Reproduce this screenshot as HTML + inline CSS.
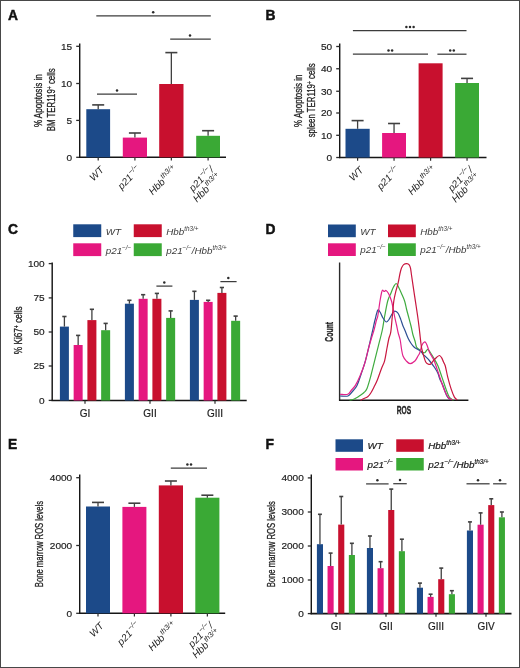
<!DOCTYPE html>
<html><head><meta charset="utf-8"><style>
html,body{margin:0;padding:0;background:#fff;}
body{width:520px;height:668px;overflow:hidden;}
svg{display:block;filter:blur(0.3px);}
text{font-family:"Liberation Sans",sans-serif;}
</style></head><body>
<svg width="520" height="668" viewBox="0 0 520 668">
<rect x="0" y="0" width="520" height="668" fill="#fff"/>
<text x="8.00" y="20.20" font-size="13.8" text-anchor="start" font-weight="bold" font-style="normal" fill="#111" stroke="#111" stroke-width="0.45">A</text>
<line x1="79.70" y1="43.50" x2="79.70" y2="157.90" stroke="#161616" stroke-width="1.45"/>
<line x1="76.20" y1="46.30" x2="79.70" y2="46.30" stroke="#2b2b2b" stroke-width="1.3"/>
<text x="72.20" y="49.75" font-size="9.8" text-anchor="end" font-weight="normal" font-style="normal" fill="#222" textLength="11.20" lengthAdjust="spacingAndGlyphs" stroke="#222" stroke-width="0.18">15</text>
<line x1="76.20" y1="83.50" x2="79.70" y2="83.50" stroke="#2b2b2b" stroke-width="1.3"/>
<text x="72.20" y="86.95" font-size="9.8" text-anchor="end" font-weight="normal" font-style="normal" fill="#222" textLength="11.20" lengthAdjust="spacingAndGlyphs" stroke="#222" stroke-width="0.18">10</text>
<line x1="76.20" y1="120.40" x2="79.70" y2="120.40" stroke="#2b2b2b" stroke-width="1.3"/>
<text x="72.20" y="123.85" font-size="9.8" text-anchor="end" font-weight="normal" font-style="normal" fill="#222" textLength="5.60" lengthAdjust="spacingAndGlyphs" stroke="#222" stroke-width="0.18">5</text>
<line x1="76.20" y1="157.30" x2="79.70" y2="157.30" stroke="#2b2b2b" stroke-width="1.3"/>
<text x="72.20" y="160.75" font-size="9.8" text-anchor="end" font-weight="normal" font-style="normal" fill="#222" textLength="5.60" lengthAdjust="spacingAndGlyphs" stroke="#222" stroke-width="0.18">0</text>
<line x1="79.00" y1="157.30" x2="226.00" y2="157.30" stroke="#161616" stroke-width="1.55"/>
<line x1="98.20" y1="157.30" x2="98.20" y2="160.50" stroke="#2b2b2b" stroke-width="1.2"/>
<line x1="134.90" y1="157.30" x2="134.90" y2="160.50" stroke="#2b2b2b" stroke-width="1.2"/>
<line x1="171.35" y1="157.30" x2="171.35" y2="160.50" stroke="#2b2b2b" stroke-width="1.2"/>
<line x1="208.10" y1="157.30" x2="208.10" y2="160.50" stroke="#2b2b2b" stroke-width="1.2"/>
<rect x="86.30" y="109.20" width="23.80" height="48.10" fill="#1c4a89"/>
<line x1="98.20" y1="109.20" x2="98.20" y2="104.90" stroke="#404040" stroke-width="1.3"/>
<line x1="92.20" y1="104.90" x2="104.20" y2="104.90" stroke="#404040" stroke-width="1.6"/>
<rect x="122.80" y="137.60" width="24.20" height="19.70" fill="#e5177f"/>
<line x1="134.90" y1="137.60" x2="134.90" y2="133.00" stroke="#404040" stroke-width="1.3"/>
<line x1="128.90" y1="133.00" x2="140.90" y2="133.00" stroke="#404040" stroke-width="1.6"/>
<rect x="159.20" y="84.00" width="24.30" height="73.30" fill="#c8102e"/>
<line x1="171.35" y1="84.00" x2="171.35" y2="52.60" stroke="#404040" stroke-width="1.3"/>
<line x1="165.35" y1="52.60" x2="177.35" y2="52.60" stroke="#404040" stroke-width="1.6"/>
<rect x="196.20" y="135.80" width="23.80" height="21.50" fill="#3aa935"/>
<line x1="208.10" y1="135.80" x2="208.10" y2="130.70" stroke="#404040" stroke-width="1.3"/>
<line x1="202.10" y1="130.70" x2="214.10" y2="130.70" stroke="#404040" stroke-width="1.6"/>
<line x1="96.30" y1="15.80" x2="210.80" y2="15.80" stroke="#3c3c3c" stroke-width="1.25"/>
<circle cx="153.20" cy="12.20" r="1.25" fill="#2b2b2b"/>
<line x1="170.20" y1="39.20" x2="210.80" y2="39.20" stroke="#3c3c3c" stroke-width="1.25"/>
<circle cx="190.00" cy="35.60" r="1.25" fill="#2b2b2b"/>
<line x1="97.00" y1="94.20" x2="137.00" y2="94.20" stroke="#3c3c3c" stroke-width="1.25"/>
<circle cx="117.00" cy="90.60" r="1.25" fill="#2b2b2b"/>
<text transform="translate(41.80,100.70) rotate(-90)" x="0" y="0" font-size="10.4" text-anchor="middle" font-weight="normal" fill="#222" stroke="#222" stroke-width="0.3" textLength="52.8" lengthAdjust="spacingAndGlyphs">% Apoptosis in</text>
<text transform="translate(55.20,99.85) rotate(-90)" x="0" y="0" font-size="10.4" text-anchor="middle" font-weight="normal" fill="#222" stroke="#222" stroke-width="0.3" textLength="63" lengthAdjust="spacingAndGlyphs">BM TER119<tspan font-size="6.5" dy="-3.5">+</tspan><tspan dy="3.5"> cells</tspan></text>
<text x="265.40" y="20.20" font-size="13.8" text-anchor="start" font-weight="bold" font-style="normal" fill="#111" stroke="#111" stroke-width="0.45">B</text>
<line x1="339.70" y1="43.50" x2="339.70" y2="158.10" stroke="#161616" stroke-width="1.45"/>
<line x1="336.20" y1="46.50" x2="339.70" y2="46.50" stroke="#2b2b2b" stroke-width="1.3"/>
<text x="332.20" y="49.95" font-size="9.8" text-anchor="end" font-weight="normal" font-style="normal" fill="#222" textLength="11.20" lengthAdjust="spacingAndGlyphs" stroke="#222" stroke-width="0.18">50</text>
<line x1="336.20" y1="68.75" x2="339.70" y2="68.75" stroke="#2b2b2b" stroke-width="1.3"/>
<text x="332.20" y="72.20" font-size="9.8" text-anchor="end" font-weight="normal" font-style="normal" fill="#222" textLength="11.20" lengthAdjust="spacingAndGlyphs" stroke="#222" stroke-width="0.18">40</text>
<line x1="336.20" y1="91.25" x2="339.70" y2="91.25" stroke="#2b2b2b" stroke-width="1.3"/>
<text x="332.20" y="94.70" font-size="9.8" text-anchor="end" font-weight="normal" font-style="normal" fill="#222" textLength="11.20" lengthAdjust="spacingAndGlyphs" stroke="#222" stroke-width="0.18">30</text>
<line x1="336.20" y1="113.00" x2="339.70" y2="113.00" stroke="#2b2b2b" stroke-width="1.3"/>
<text x="332.20" y="116.45" font-size="9.8" text-anchor="end" font-weight="normal" font-style="normal" fill="#222" textLength="11.20" lengthAdjust="spacingAndGlyphs" stroke="#222" stroke-width="0.18">20</text>
<line x1="336.20" y1="135.30" x2="339.70" y2="135.30" stroke="#2b2b2b" stroke-width="1.3"/>
<text x="332.20" y="138.75" font-size="9.8" text-anchor="end" font-weight="normal" font-style="normal" fill="#222" textLength="11.20" lengthAdjust="spacingAndGlyphs" stroke="#222" stroke-width="0.18">10</text>
<line x1="336.20" y1="157.50" x2="339.70" y2="157.50" stroke="#2b2b2b" stroke-width="1.3"/>
<text x="332.20" y="160.95" font-size="9.8" text-anchor="end" font-weight="normal" font-style="normal" fill="#222" textLength="5.60" lengthAdjust="spacingAndGlyphs" stroke="#222" stroke-width="0.18">0</text>
<line x1="339.00" y1="157.50" x2="486.50" y2="157.50" stroke="#161616" stroke-width="1.55"/>
<line x1="357.60" y1="157.50" x2="357.60" y2="160.70" stroke="#2b2b2b" stroke-width="1.2"/>
<line x1="394.05" y1="157.50" x2="394.05" y2="160.70" stroke="#2b2b2b" stroke-width="1.2"/>
<line x1="430.60" y1="157.50" x2="430.60" y2="160.70" stroke="#2b2b2b" stroke-width="1.2"/>
<line x1="467.05" y1="157.50" x2="467.05" y2="160.70" stroke="#2b2b2b" stroke-width="1.2"/>
<rect x="345.50" y="128.80" width="24.20" height="28.70" fill="#1c4a89"/>
<line x1="357.60" y1="128.80" x2="357.60" y2="120.60" stroke="#404040" stroke-width="1.3"/>
<line x1="351.60" y1="120.60" x2="363.60" y2="120.60" stroke="#404040" stroke-width="1.6"/>
<rect x="382.10" y="133.00" width="23.90" height="24.50" fill="#e5177f"/>
<line x1="394.05" y1="133.00" x2="394.05" y2="123.50" stroke="#404040" stroke-width="1.3"/>
<line x1="388.05" y1="123.50" x2="400.05" y2="123.50" stroke="#404040" stroke-width="1.6"/>
<rect x="418.60" y="63.30" width="24.00" height="94.20" fill="#c8102e"/>
<rect x="455.10" y="83.00" width="23.90" height="74.50" fill="#3aa935"/>
<line x1="467.05" y1="83.00" x2="467.05" y2="78.40" stroke="#404040" stroke-width="1.3"/>
<line x1="461.05" y1="78.40" x2="473.05" y2="78.40" stroke="#404040" stroke-width="1.6"/>
<line x1="352.90" y1="30.70" x2="466.50" y2="30.70" stroke="#3c3c3c" stroke-width="1.25"/>
<circle cx="406.40" cy="27.10" r="1.25" fill="#2b2b2b"/>
<circle cx="410.00" cy="27.10" r="1.25" fill="#2b2b2b"/>
<circle cx="413.60" cy="27.10" r="1.25" fill="#2b2b2b"/>
<line x1="352.90" y1="54.20" x2="428.00" y2="54.20" stroke="#3c3c3c" stroke-width="1.25"/>
<circle cx="388.50" cy="50.60" r="1.25" fill="#2b2b2b"/>
<circle cx="392.10" cy="50.60" r="1.25" fill="#2b2b2b"/>
<line x1="437.40" y1="54.20" x2="466.50" y2="54.20" stroke="#3c3c3c" stroke-width="1.25"/>
<circle cx="450.20" cy="50.60" r="1.25" fill="#2b2b2b"/>
<circle cx="453.80" cy="50.60" r="1.25" fill="#2b2b2b"/>
<text transform="translate(301.70,100.70) rotate(-90)" x="0" y="0" font-size="10.4" text-anchor="middle" font-weight="normal" fill="#222" stroke="#222" stroke-width="0.3" textLength="52.4" lengthAdjust="spacingAndGlyphs">% Apoptosis in</text>
<text transform="translate(315.20,100.30) rotate(-90)" x="0" y="0" font-size="10.4" text-anchor="middle" font-weight="normal" fill="#222" stroke="#222" stroke-width="0.3" textLength="74" lengthAdjust="spacingAndGlyphs">spleen TER119<tspan font-size="6.5" dy="-3.5">+</tspan><tspan dy="3.5"> cells</tspan></text>
<text x="8.00" y="234.40" font-size="13.8" text-anchor="start" font-weight="bold" font-style="normal" fill="#111" stroke="#111" stroke-width="0.45">C</text>
<rect x="73.25" y="224.30" width="28.00" height="12.80" fill="#1c4a89"/>
<text x="105.75" y="234.50" font-size="9.8" text-anchor="start" font-weight="normal" font-style="italic" fill="#3a3a3a" >WT</text>
<rect x="73.25" y="243.30" width="28.00" height="12.80" fill="#e5177f"/>
<text x="105.75" y="253.50" font-size="9.8" text-anchor="start" font-weight="normal" font-style="italic" fill="#3a3a3a" >p21<tspan font-size="6.3" dy="-4">−/−</tspan></text>
<rect x="133.75" y="224.30" width="28.00" height="12.80" fill="#c8102e"/>
<text x="166.25" y="234.50" font-size="9.8" text-anchor="start" font-weight="normal" font-style="italic" fill="#3a3a3a" >Hbb<tspan font-size="6.3" dy="-4">th3/+</tspan></text>
<rect x="133.75" y="243.30" width="28.00" height="12.80" fill="#3aa935"/>
<text x="166.25" y="253.50" font-size="9.8" text-anchor="start" font-weight="normal" font-style="italic" fill="#3a3a3a" >p21<tspan font-size="6.3" dy="-4">−/−</tspan><tspan dy="4">/Hbb</tspan><tspan font-size="6.3" dy="-4">th3/+</tspan></text>
<line x1="52.20" y1="262.50" x2="52.20" y2="401.10" stroke="#161616" stroke-width="1.45"/>
<line x1="48.70" y1="263.60" x2="52.20" y2="263.60" stroke="#2b2b2b" stroke-width="1.3"/>
<text x="44.70" y="267.05" font-size="9.8" text-anchor="end" font-weight="normal" font-style="normal" fill="#222" textLength="16.80" lengthAdjust="spacingAndGlyphs" stroke="#222" stroke-width="0.18">100</text>
<line x1="48.70" y1="297.90" x2="52.20" y2="297.90" stroke="#2b2b2b" stroke-width="1.3"/>
<text x="44.70" y="301.35" font-size="9.8" text-anchor="end" font-weight="normal" font-style="normal" fill="#222" textLength="11.20" lengthAdjust="spacingAndGlyphs" stroke="#222" stroke-width="0.18">75</text>
<line x1="48.70" y1="332.00" x2="52.20" y2="332.00" stroke="#2b2b2b" stroke-width="1.3"/>
<text x="44.70" y="335.45" font-size="9.8" text-anchor="end" font-weight="normal" font-style="normal" fill="#222" textLength="11.20" lengthAdjust="spacingAndGlyphs" stroke="#222" stroke-width="0.18">50</text>
<line x1="48.70" y1="366.00" x2="52.20" y2="366.00" stroke="#2b2b2b" stroke-width="1.3"/>
<text x="44.70" y="369.45" font-size="9.8" text-anchor="end" font-weight="normal" font-style="normal" fill="#222" textLength="11.20" lengthAdjust="spacingAndGlyphs" stroke="#222" stroke-width="0.18">25</text>
<line x1="48.70" y1="400.40" x2="52.20" y2="400.40" stroke="#2b2b2b" stroke-width="1.3"/>
<text x="44.70" y="403.85" font-size="9.8" text-anchor="end" font-weight="normal" font-style="normal" fill="#222" textLength="5.60" lengthAdjust="spacingAndGlyphs" stroke="#222" stroke-width="0.18">0</text>
<line x1="51.50" y1="400.50" x2="246.70" y2="400.50" stroke="#161616" stroke-width="1.55"/>
<line x1="85.00" y1="400.50" x2="85.00" y2="403.70" stroke="#2b2b2b" stroke-width="1.2"/>
<line x1="150.00" y1="400.50" x2="150.00" y2="403.70" stroke="#2b2b2b" stroke-width="1.2"/>
<line x1="215.00" y1="400.50" x2="215.00" y2="403.70" stroke="#2b2b2b" stroke-width="1.2"/>
<rect x="59.90" y="326.60" width="9.00" height="73.90" fill="#1c4a89"/>
<line x1="64.40" y1="326.60" x2="64.40" y2="316.50" stroke="#404040" stroke-width="1.3"/>
<line x1="62.30" y1="316.50" x2="66.50" y2="316.50" stroke="#404040" stroke-width="1.6"/>
<rect x="73.65" y="345.00" width="9.00" height="55.50" fill="#e5177f"/>
<line x1="78.15" y1="345.00" x2="78.15" y2="335.40" stroke="#404040" stroke-width="1.3"/>
<line x1="76.05" y1="335.40" x2="80.25" y2="335.40" stroke="#404040" stroke-width="1.6"/>
<rect x="87.40" y="320.10" width="9.00" height="80.40" fill="#c8102e"/>
<line x1="91.90" y1="320.10" x2="91.90" y2="309.30" stroke="#404040" stroke-width="1.3"/>
<line x1="89.80" y1="309.30" x2="94.00" y2="309.30" stroke="#404040" stroke-width="1.6"/>
<rect x="101.15" y="330.20" width="9.00" height="70.30" fill="#3aa935"/>
<line x1="105.65" y1="330.20" x2="105.65" y2="323.40" stroke="#404040" stroke-width="1.3"/>
<line x1="103.55" y1="323.40" x2="107.75" y2="323.40" stroke="#404040" stroke-width="1.6"/>
<rect x="124.90" y="303.70" width="9.00" height="96.80" fill="#1c4a89"/>
<line x1="129.40" y1="303.70" x2="129.40" y2="300.30" stroke="#404040" stroke-width="1.3"/>
<line x1="127.30" y1="300.30" x2="131.50" y2="300.30" stroke="#404040" stroke-width="1.6"/>
<rect x="138.65" y="298.80" width="9.00" height="101.70" fill="#e5177f"/>
<line x1="143.15" y1="298.80" x2="143.15" y2="294.70" stroke="#404040" stroke-width="1.3"/>
<line x1="141.05" y1="294.70" x2="145.25" y2="294.70" stroke="#404040" stroke-width="1.6"/>
<rect x="152.40" y="298.80" width="9.00" height="101.70" fill="#c8102e"/>
<line x1="156.90" y1="298.80" x2="156.90" y2="293.40" stroke="#404040" stroke-width="1.3"/>
<line x1="154.80" y1="293.40" x2="159.00" y2="293.40" stroke="#404040" stroke-width="1.6"/>
<rect x="166.15" y="317.90" width="9.00" height="82.60" fill="#3aa935"/>
<line x1="170.65" y1="317.90" x2="170.65" y2="310.90" stroke="#404040" stroke-width="1.3"/>
<line x1="168.55" y1="310.90" x2="172.75" y2="310.90" stroke="#404040" stroke-width="1.6"/>
<rect x="189.90" y="299.90" width="9.00" height="100.60" fill="#1c4a89"/>
<line x1="194.40" y1="299.90" x2="194.40" y2="291.30" stroke="#404040" stroke-width="1.3"/>
<line x1="192.30" y1="291.30" x2="196.50" y2="291.30" stroke="#404040" stroke-width="1.6"/>
<rect x="203.65" y="301.90" width="9.00" height="98.60" fill="#e5177f"/>
<line x1="208.15" y1="301.90" x2="208.15" y2="300.30" stroke="#404040" stroke-width="1.3"/>
<line x1="206.05" y1="300.30" x2="210.25" y2="300.30" stroke="#404040" stroke-width="1.6"/>
<rect x="217.40" y="292.90" width="9.00" height="107.60" fill="#c8102e"/>
<line x1="221.90" y1="292.90" x2="221.90" y2="287.50" stroke="#404040" stroke-width="1.3"/>
<line x1="219.80" y1="287.50" x2="224.00" y2="287.50" stroke="#404040" stroke-width="1.6"/>
<rect x="231.15" y="320.80" width="9.00" height="79.70" fill="#3aa935"/>
<line x1="235.65" y1="320.80" x2="235.65" y2="316.10" stroke="#404040" stroke-width="1.3"/>
<line x1="233.55" y1="316.10" x2="237.75" y2="316.10" stroke="#404040" stroke-width="1.6"/>
<line x1="156.40" y1="286.10" x2="172.40" y2="286.10" stroke="#3c3c3c" stroke-width="1.25"/>
<circle cx="164.30" cy="282.50" r="1.25" fill="#2b2b2b"/>
<line x1="220.40" y1="281.60" x2="236.60" y2="281.60" stroke="#3c3c3c" stroke-width="1.25"/>
<circle cx="228.30" cy="278.00" r="1.25" fill="#2b2b2b"/>
<text x="85.00" y="416.90" font-size="10" text-anchor="middle" font-weight="normal" font-style="normal" fill="#222" stroke="#222" stroke-width="0.18">GI</text>
<text x="150.00" y="416.90" font-size="10" text-anchor="middle" font-weight="normal" font-style="normal" fill="#222" stroke="#222" stroke-width="0.18">GII</text>
<text x="215.00" y="416.90" font-size="10" text-anchor="middle" font-weight="normal" font-style="normal" fill="#222" stroke="#222" stroke-width="0.18">GIII</text>
<text transform="translate(22.00,330.30) rotate(-90)" x="0" y="0" font-size="10.4" text-anchor="middle" font-weight="normal" fill="#222" stroke="#222" stroke-width="0.3" textLength="47.8" lengthAdjust="spacingAndGlyphs">% Ki67<tspan font-size="6.5" dy="-3.5">+</tspan><tspan dy="3.5"> cells</tspan></text>
<text x="265.40" y="234.40" font-size="13.8" text-anchor="start" font-weight="bold" font-style="normal" fill="#111" stroke="#111" stroke-width="0.45">D</text>
<rect x="328.00" y="224.50" width="27.80" height="12.70" fill="#1c4a89"/>
<text x="360.30" y="234.65" font-size="9.8" text-anchor="start" font-weight="normal" font-style="italic" fill="#3a3a3a" >WT</text>
<rect x="328.00" y="243.30" width="27.80" height="12.70" fill="#e5177f"/>
<text x="360.30" y="253.45" font-size="9.8" text-anchor="start" font-weight="normal" font-style="italic" fill="#3a3a3a" >p21<tspan font-size="6.3" dy="-4">−/−</tspan></text>
<rect x="388.00" y="224.50" width="27.80" height="12.70" fill="#c8102e"/>
<text x="420.30" y="234.65" font-size="9.8" text-anchor="start" font-weight="normal" font-style="italic" fill="#3a3a3a" >Hbb<tspan font-size="6.3" dy="-4">th3/+</tspan></text>
<rect x="388.00" y="243.30" width="27.80" height="12.70" fill="#3aa935"/>
<text x="420.30" y="253.45" font-size="9.8" text-anchor="start" font-weight="normal" font-style="italic" fill="#3a3a3a" >p21<tspan font-size="6.3" dy="-4">−/−</tspan><tspan dy="4">/Hbb</tspan><tspan font-size="6.3" dy="-4">th3/+</tspan></text>
<line x1="339.60" y1="262.50" x2="339.60" y2="400.80" stroke="#2b2b2b" stroke-width="1.4"/>
<line x1="339.00" y1="400.20" x2="468.40" y2="400.20" stroke="#161616" stroke-width="1.6"/>
<path d="M350.00,400.00 C350.50,399.92 351.83,399.92 353.00,399.50 C354.17,399.08 355.83,398.18 357.00,397.50 C358.17,396.82 358.83,396.23 360.00,395.40 C361.17,394.57 362.83,393.65 364.00,392.50 C365.17,391.35 365.87,391.25 367.00,388.50 C368.13,385.75 369.53,380.62 370.80,376.00 C372.07,371.38 373.32,365.90 374.60,360.80 C375.88,355.70 377.22,350.53 378.50,345.40 C379.78,340.27 381.28,334.82 382.30,330.00 C383.32,325.18 383.70,321.33 384.60,316.50 C385.50,311.67 386.67,304.83 387.70,301.00 C388.73,297.17 389.83,295.83 390.80,293.50 C391.77,291.17 392.60,288.67 393.50,287.00 C394.40,285.33 395.37,283.50 396.20,283.50 C397.03,283.50 397.62,285.33 398.50,287.00 C399.38,288.67 400.48,291.17 401.50,293.50 C402.52,295.83 403.77,298.42 404.60,301.00 C405.43,303.58 405.85,306.42 406.50,309.00 C407.15,311.58 407.75,313.67 408.50,316.50 C409.25,319.33 410.25,322.92 411.00,326.00 C411.75,329.08 412.33,332.50 413.00,335.00 C413.67,337.50 414.42,339.00 415.00,341.00 C415.58,343.00 415.70,345.50 416.50,347.00 C417.30,348.50 418.88,349.17 419.80,350.00 C420.72,350.83 421.17,351.55 422.00,352.00 C422.83,352.45 424.05,352.95 424.80,352.70 C425.55,352.45 425.97,351.03 426.50,350.50 C427.03,349.97 427.42,349.25 428.00,349.50 C428.58,349.75 429.17,350.78 430.00,352.00 C430.83,353.22 431.68,354.50 433.00,356.80 C434.32,359.10 436.40,362.37 437.90,365.80 C439.40,369.23 440.62,373.42 442.00,377.40 C443.38,381.38 445.03,386.52 446.20,389.70 C447.37,392.88 448.18,394.98 449.00,396.50 C449.82,398.02 450.43,398.22 451.10,398.80 C451.77,399.38 452.68,399.80 453.00,400.00" fill="none" stroke="#3fab3f" stroke-width="1.2" stroke-linejoin="round" stroke-linecap="round"/>
<path d="M340.50,396.00 C341.75,396.00 346.08,396.67 348.00,396.00 C349.92,395.33 350.50,393.77 352.00,392.00 C353.50,390.23 355.42,388.57 357.00,385.40 C358.58,382.23 360.10,377.10 361.50,373.00 C362.90,368.90 364.12,365.40 365.40,360.80 C366.68,356.20 368.05,350.20 369.20,345.40 C370.35,340.60 371.33,336.23 372.30,332.00 C373.27,327.77 374.10,323.60 375.00,320.00 C375.90,316.40 376.87,311.73 377.70,310.40 C378.53,309.07 379.12,310.73 380.00,312.00 C380.88,313.27 381.97,316.33 383.00,318.00 C384.03,319.67 385.20,321.75 386.20,322.00 C387.20,322.25 388.03,320.83 389.00,319.50 C389.97,318.17 391.08,315.38 392.00,314.00 C392.92,312.62 393.80,311.60 394.50,311.20 C395.20,310.80 395.53,311.13 396.20,311.60 C396.87,312.07 397.73,312.67 398.50,314.00 C399.27,315.33 400.05,317.60 400.80,319.60 C401.55,321.60 402.30,324.18 403.00,326.00 C403.70,327.82 404.17,328.50 405.00,330.50 C405.83,332.50 407.03,335.92 408.00,338.00 C408.97,340.08 409.80,341.50 410.80,343.00 C411.80,344.50 412.97,346.00 414.00,347.00 C415.03,348.00 415.92,348.33 417.00,349.00 C418.08,349.67 419.48,350.12 420.50,351.00 C421.52,351.88 422.10,353.22 423.10,354.30 C424.10,355.38 425.40,356.38 426.50,357.50 C427.60,358.62 428.35,359.33 429.70,361.00 C431.05,362.67 433.23,365.45 434.60,367.50 C435.97,369.55 437.03,371.38 437.90,373.30 C438.77,375.22 438.97,376.95 439.80,379.00 C440.63,381.05 441.70,382.72 442.90,385.60 C444.10,388.48 445.77,393.97 447.00,396.30 C448.23,398.63 449.75,399.05 450.30,399.60" fill="none" stroke="#2d4f93" stroke-width="1.2" stroke-linejoin="round" stroke-linecap="round"/>
<path d="M340.50,394.30 C341.70,394.30 345.87,395.02 347.70,394.30 C349.53,393.58 350.22,391.48 351.50,390.00 C352.78,388.52 353.98,387.73 355.40,385.40 C356.82,383.07 358.47,379.60 360.00,376.00 C361.53,372.40 363.18,368.38 364.60,363.80 C366.02,359.22 367.35,352.80 368.50,348.50 C369.65,344.20 370.58,341.08 371.50,338.00 C372.42,334.92 373.17,333.00 374.00,330.00 C374.83,327.00 375.88,322.25 376.50,320.00 C377.12,317.75 377.28,318.50 377.70,316.50 C378.12,314.50 378.62,310.58 379.00,308.00 C379.38,305.42 379.58,303.50 380.00,301.00 C380.42,298.50 381.08,294.80 381.50,293.00 C381.92,291.20 382.03,290.45 382.50,290.20 C382.97,289.95 383.72,291.45 384.30,291.50 C384.88,291.55 385.30,290.17 386.00,290.50 C386.70,290.83 387.58,291.75 388.50,293.50 C389.42,295.25 390.75,298.58 391.50,301.00 C392.25,303.42 392.48,305.42 393.00,308.00 C393.52,310.58 394.02,313.67 394.60,316.50 C395.18,319.33 395.90,322.25 396.50,325.00 C397.10,327.75 397.58,330.50 398.20,333.00 C398.82,335.50 399.65,337.33 400.20,340.00 C400.75,342.67 401.03,346.33 401.50,349.00 C401.97,351.67 402.22,354.03 403.00,356.00 C403.78,357.97 405.03,359.53 406.20,360.80 C407.37,362.07 408.55,363.57 410.00,363.60 C411.45,363.63 413.57,362.27 414.90,361.00 C416.23,359.73 417.18,357.38 418.00,356.00 C418.82,354.62 419.13,354.53 419.80,352.70 C420.47,350.87 421.23,346.78 422.00,345.00 C422.77,343.22 423.73,342.33 424.40,342.00 C425.07,341.67 425.48,342.25 426.00,343.00 C426.52,343.75 426.88,344.88 427.50,346.50 C428.12,348.12 428.65,350.45 429.70,352.70 C430.75,354.95 432.57,357.27 433.80,360.00 C435.03,362.73 436.00,365.93 437.10,369.10 C438.20,372.27 439.17,375.43 440.40,379.00 C441.63,382.57 443.13,387.33 444.50,390.50 C445.87,393.67 447.37,396.48 448.60,398.00 C449.83,399.52 451.35,399.33 451.90,399.60" fill="none" stroke="#e2238b" stroke-width="1.2" stroke-linejoin="round" stroke-linecap="round"/>
<path d="M361.00,400.00 C361.50,399.75 362.83,399.08 364.00,398.50 C365.17,397.92 366.87,397.42 368.00,396.50 C369.13,395.58 369.80,394.58 370.80,393.00 C371.80,391.42 372.97,389.03 374.00,387.00 C375.03,384.97 375.75,383.88 377.00,380.80 C378.25,377.72 380.23,371.83 381.50,368.50 C382.77,365.17 383.68,364.22 384.60,360.80 C385.52,357.38 386.27,351.80 387.00,348.00 C387.73,344.20 388.37,340.68 389.00,338.00 C389.63,335.32 390.25,335.48 390.80,331.90 C391.35,328.32 391.80,321.62 392.30,316.50 C392.80,311.38 393.23,305.30 393.80,301.20 C394.37,297.10 394.97,294.98 395.70,291.90 C396.43,288.82 397.48,285.77 398.20,282.70 C398.92,279.63 399.45,275.93 400.00,273.50 C400.55,271.07 400.90,269.58 401.50,268.10 C402.10,266.62 402.70,265.35 403.60,264.60 C404.50,263.85 405.97,263.57 406.90,263.60 C407.83,263.63 408.60,264.05 409.20,264.80 C409.80,265.55 410.12,266.40 410.50,268.10 C410.88,269.80 411.07,272.05 411.50,275.00 C411.93,277.95 412.45,281.43 413.10,285.80 C413.75,290.17 414.63,296.08 415.40,301.20 C416.17,306.32 417.07,312.03 417.70,316.50 C418.33,320.97 418.78,324.58 419.20,328.00 C419.62,331.42 419.90,334.33 420.20,337.00 C420.50,339.67 420.73,342.00 421.00,344.00 C421.27,346.00 421.40,347.17 421.80,349.00 C422.20,350.83 422.77,352.88 423.40,355.00 C424.03,357.12 424.83,360.20 425.60,361.70 C426.37,363.20 427.18,363.58 428.00,364.00 C428.82,364.42 429.58,364.78 430.50,364.20 C431.42,363.62 432.50,361.62 433.50,360.50 C434.50,359.38 435.50,358.33 436.50,357.50 C437.50,356.67 438.63,355.43 439.50,355.50 C440.37,355.57 441.03,356.82 441.70,357.90 C442.37,358.98 442.90,360.65 443.50,362.00 C444.10,363.35 444.58,363.43 445.30,366.00 C446.02,368.57 446.83,373.58 447.80,377.40 C448.77,381.22 450.00,385.62 451.10,388.90 C452.20,392.18 453.43,395.32 454.40,397.10 C455.37,398.88 456.48,399.18 456.90,399.60" fill="none" stroke="#c8163f" stroke-width="1.2" stroke-linejoin="round" stroke-linecap="round"/>
<text transform="translate(332.70,331.80) rotate(-90)" x="0" y="0" font-size="11.6" text-anchor="middle" font-weight="bold" fill="#222" stroke="#222" stroke-width="0.3" textLength="19.8" lengthAdjust="spacingAndGlyphs">Count</text>
<text x="404.00" y="413.60" font-size="10.6" text-anchor="middle" font-weight="bold" font-style="normal" fill="#222" textLength="14.5" lengthAdjust="spacingAndGlyphs" stroke="#222" stroke-width="0.3">ROS</text>
<text x="8.00" y="448.90" font-size="13.8" text-anchor="start" font-weight="bold" font-style="normal" fill="#111" stroke="#111" stroke-width="0.45">E</text>
<line x1="79.70" y1="474.50" x2="79.70" y2="613.90" stroke="#161616" stroke-width="1.45"/>
<line x1="76.20" y1="477.70" x2="79.70" y2="477.70" stroke="#2b2b2b" stroke-width="1.3"/>
<text x="72.20" y="481.15" font-size="9.8" text-anchor="end" font-weight="normal" font-style="normal" fill="#222" textLength="22.40" lengthAdjust="spacingAndGlyphs" stroke="#222" stroke-width="0.18">4000</text>
<line x1="76.20" y1="545.50" x2="79.70" y2="545.50" stroke="#2b2b2b" stroke-width="1.3"/>
<text x="72.20" y="548.95" font-size="9.8" text-anchor="end" font-weight="normal" font-style="normal" fill="#222" textLength="22.40" lengthAdjust="spacingAndGlyphs" stroke="#222" stroke-width="0.18">2000</text>
<line x1="76.20" y1="613.30" x2="79.70" y2="613.30" stroke="#2b2b2b" stroke-width="1.3"/>
<text x="72.20" y="616.75" font-size="9.8" text-anchor="end" font-weight="normal" font-style="normal" fill="#222" textLength="5.60" lengthAdjust="spacingAndGlyphs" stroke="#222" stroke-width="0.18">0</text>
<line x1="79.00" y1="613.30" x2="225.20" y2="613.30" stroke="#161616" stroke-width="1.55"/>
<line x1="98.00" y1="613.30" x2="98.00" y2="616.50" stroke="#2b2b2b" stroke-width="1.2"/>
<line x1="134.40" y1="613.30" x2="134.40" y2="616.50" stroke="#2b2b2b" stroke-width="1.2"/>
<line x1="170.90" y1="613.30" x2="170.90" y2="616.50" stroke="#2b2b2b" stroke-width="1.2"/>
<line x1="207.35" y1="613.30" x2="207.35" y2="616.50" stroke="#2b2b2b" stroke-width="1.2"/>
<rect x="86.00" y="506.50" width="24.00" height="106.80" fill="#1c4a89"/>
<line x1="98.00" y1="506.50" x2="98.00" y2="502.40" stroke="#404040" stroke-width="1.3"/>
<line x1="92.00" y1="502.40" x2="104.00" y2="502.40" stroke="#404040" stroke-width="1.6"/>
<rect x="122.40" y="506.90" width="24.00" height="106.40" fill="#e5177f"/>
<line x1="134.40" y1="506.90" x2="134.40" y2="503.20" stroke="#404040" stroke-width="1.3"/>
<line x1="128.40" y1="503.20" x2="140.40" y2="503.20" stroke="#404040" stroke-width="1.6"/>
<rect x="158.80" y="485.40" width="24.20" height="127.90" fill="#c8102e"/>
<line x1="170.90" y1="485.40" x2="170.90" y2="481.00" stroke="#404040" stroke-width="1.3"/>
<line x1="164.90" y1="481.00" x2="176.90" y2="481.00" stroke="#404040" stroke-width="1.6"/>
<rect x="195.30" y="497.70" width="24.10" height="115.60" fill="#3aa935"/>
<line x1="207.35" y1="497.70" x2="207.35" y2="495.20" stroke="#404040" stroke-width="1.3"/>
<line x1="201.35" y1="495.20" x2="213.35" y2="495.20" stroke="#404040" stroke-width="1.6"/>
<line x1="170.80" y1="468.20" x2="207.00" y2="468.20" stroke="#3c3c3c" stroke-width="1.25"/>
<circle cx="187.40" cy="464.60" r="1.25" fill="#2b2b2b"/>
<circle cx="191.00" cy="464.60" r="1.25" fill="#2b2b2b"/>
<text transform="translate(42.90,544.10) rotate(-90)" x="0" y="0" font-size="10.4" text-anchor="middle" font-weight="normal" fill="#222" stroke="#222" stroke-width="0.3" textLength="86.2" lengthAdjust="spacingAndGlyphs">Bone marrow ROS levels</text>
<text x="265.40" y="448.90" font-size="13.8" text-anchor="start" font-weight="bold" font-style="normal" fill="#111" stroke="#111" stroke-width="0.45">F</text>
<rect x="335.50" y="439.30" width="27.50" height="12.50" fill="#1c4a89"/>
<text x="367.50" y="449.35" font-size="9.8" text-anchor="start" font-weight="normal" font-style="italic" fill="#1a1a1a" stroke="#1a1a1a" stroke-width="0.2">WT</text>
<rect x="335.50" y="458.00" width="27.50" height="12.50" fill="#e5177f"/>
<text x="367.50" y="468.05" font-size="9.8" text-anchor="start" font-weight="normal" font-style="italic" fill="#1a1a1a" stroke="#1a1a1a" stroke-width="0.2">p21<tspan font-size="6.3" dy="-4">−/−</tspan></text>
<rect x="396.25" y="439.30" width="27.50" height="12.50" fill="#c8102e"/>
<text x="428.25" y="449.35" font-size="9.8" text-anchor="start" font-weight="normal" font-style="italic" fill="#1a1a1a" stroke="#1a1a1a" stroke-width="0.2">Hbb<tspan font-size="6.3" dy="-4">th3/+</tspan></text>
<rect x="396.25" y="458.00" width="27.50" height="12.50" fill="#3aa935"/>
<text x="428.25" y="468.05" font-size="9.8" text-anchor="start" font-weight="normal" font-style="italic" fill="#1a1a1a" stroke="#1a1a1a" stroke-width="0.2">p21<tspan font-size="6.3" dy="-4">−/−</tspan><tspan dy="4">/Hbb</tspan><tspan font-size="6.3" dy="-4">th3/+</tspan></text>
<line x1="311.30" y1="474.50" x2="311.30" y2="614.20" stroke="#161616" stroke-width="1.45"/>
<line x1="307.80" y1="477.90" x2="311.30" y2="477.90" stroke="#2b2b2b" stroke-width="1.3"/>
<text x="303.80" y="481.35" font-size="9.8" text-anchor="end" font-weight="normal" font-style="normal" fill="#222" textLength="22.40" lengthAdjust="spacingAndGlyphs" stroke="#222" stroke-width="0.18">4000</text>
<line x1="307.80" y1="512.00" x2="311.30" y2="512.00" stroke="#2b2b2b" stroke-width="1.3"/>
<text x="303.80" y="515.45" font-size="9.8" text-anchor="end" font-weight="normal" font-style="normal" fill="#222" textLength="22.40" lengthAdjust="spacingAndGlyphs" stroke="#222" stroke-width="0.18">3000</text>
<line x1="307.80" y1="546.00" x2="311.30" y2="546.00" stroke="#2b2b2b" stroke-width="1.3"/>
<text x="303.80" y="549.45" font-size="9.8" text-anchor="end" font-weight="normal" font-style="normal" fill="#222" textLength="22.40" lengthAdjust="spacingAndGlyphs" stroke="#222" stroke-width="0.18">2000</text>
<line x1="307.80" y1="580.00" x2="311.30" y2="580.00" stroke="#2b2b2b" stroke-width="1.3"/>
<text x="303.80" y="583.45" font-size="9.8" text-anchor="end" font-weight="normal" font-style="normal" fill="#222" textLength="22.40" lengthAdjust="spacingAndGlyphs" stroke="#222" stroke-width="0.18">1000</text>
<line x1="307.80" y1="613.60" x2="311.30" y2="613.60" stroke="#2b2b2b" stroke-width="1.3"/>
<text x="303.80" y="617.05" font-size="9.8" text-anchor="end" font-weight="normal" font-style="normal" fill="#222" textLength="5.60" lengthAdjust="spacingAndGlyphs" stroke="#222" stroke-width="0.18">0</text>
<line x1="310.60" y1="613.60" x2="511.50" y2="613.60" stroke="#161616" stroke-width="1.55"/>
<line x1="336.00" y1="613.60" x2="336.00" y2="616.80" stroke="#2b2b2b" stroke-width="1.2"/>
<line x1="386.00" y1="613.60" x2="386.00" y2="616.80" stroke="#2b2b2b" stroke-width="1.2"/>
<line x1="436.00" y1="613.60" x2="436.00" y2="616.80" stroke="#2b2b2b" stroke-width="1.2"/>
<line x1="486.00" y1="613.60" x2="486.00" y2="616.80" stroke="#2b2b2b" stroke-width="1.2"/>
<rect x="316.90" y="544.20" width="6.10" height="69.40" fill="#1c4a89"/>
<line x1="319.95" y1="544.20" x2="319.95" y2="514.30" stroke="#404040" stroke-width="1.3"/>
<line x1="317.95" y1="514.30" x2="321.95" y2="514.30" stroke="#404040" stroke-width="1.6"/>
<rect x="327.55" y="566.00" width="6.10" height="47.60" fill="#e5177f"/>
<line x1="330.60" y1="566.00" x2="330.60" y2="553.10" stroke="#404040" stroke-width="1.3"/>
<line x1="328.60" y1="553.10" x2="332.60" y2="553.10" stroke="#404040" stroke-width="1.6"/>
<rect x="338.20" y="524.60" width="6.10" height="89.00" fill="#c8102e"/>
<line x1="341.25" y1="524.60" x2="341.25" y2="496.50" stroke="#404040" stroke-width="1.3"/>
<line x1="339.25" y1="496.50" x2="343.25" y2="496.50" stroke="#404040" stroke-width="1.6"/>
<rect x="348.85" y="555.00" width="6.10" height="58.60" fill="#3aa935"/>
<line x1="351.90" y1="555.00" x2="351.90" y2="543.30" stroke="#404040" stroke-width="1.3"/>
<line x1="349.90" y1="543.30" x2="353.90" y2="543.30" stroke="#404040" stroke-width="1.6"/>
<rect x="366.90" y="548.00" width="6.10" height="65.60" fill="#1c4a89"/>
<line x1="369.95" y1="548.00" x2="369.95" y2="536.00" stroke="#404040" stroke-width="1.3"/>
<line x1="367.95" y1="536.00" x2="371.95" y2="536.00" stroke="#404040" stroke-width="1.6"/>
<rect x="377.55" y="568.20" width="6.10" height="45.40" fill="#e5177f"/>
<line x1="380.60" y1="568.20" x2="380.60" y2="561.70" stroke="#404040" stroke-width="1.3"/>
<line x1="378.60" y1="561.70" x2="382.60" y2="561.70" stroke="#404040" stroke-width="1.6"/>
<rect x="388.20" y="510.00" width="6.10" height="103.60" fill="#c8102e"/>
<line x1="391.25" y1="510.00" x2="391.25" y2="489.10" stroke="#404040" stroke-width="1.3"/>
<line x1="389.25" y1="489.10" x2="393.25" y2="489.10" stroke="#404040" stroke-width="1.6"/>
<rect x="398.85" y="551.20" width="6.10" height="62.40" fill="#3aa935"/>
<line x1="401.90" y1="551.20" x2="401.90" y2="539.20" stroke="#404040" stroke-width="1.3"/>
<line x1="399.90" y1="539.20" x2="403.90" y2="539.20" stroke="#404040" stroke-width="1.6"/>
<rect x="416.90" y="587.70" width="6.10" height="25.90" fill="#1c4a89"/>
<line x1="419.95" y1="587.70" x2="419.95" y2="583.10" stroke="#404040" stroke-width="1.3"/>
<line x1="417.95" y1="583.10" x2="421.95" y2="583.10" stroke="#404040" stroke-width="1.6"/>
<rect x="427.55" y="596.90" width="6.10" height="16.70" fill="#e5177f"/>
<line x1="430.60" y1="596.90" x2="430.60" y2="594.20" stroke="#404040" stroke-width="1.3"/>
<line x1="428.60" y1="594.20" x2="432.60" y2="594.20" stroke="#404040" stroke-width="1.6"/>
<rect x="438.20" y="579.20" width="6.10" height="34.40" fill="#c8102e"/>
<line x1="441.25" y1="579.20" x2="441.25" y2="568.10" stroke="#404040" stroke-width="1.3"/>
<line x1="439.25" y1="568.10" x2="443.25" y2="568.10" stroke="#404040" stroke-width="1.6"/>
<rect x="448.85" y="594.20" width="6.10" height="19.40" fill="#3aa935"/>
<line x1="451.90" y1="594.20" x2="451.90" y2="590.70" stroke="#404040" stroke-width="1.3"/>
<line x1="449.90" y1="590.70" x2="453.90" y2="590.70" stroke="#404040" stroke-width="1.6"/>
<rect x="466.90" y="530.50" width="6.10" height="83.10" fill="#1c4a89"/>
<line x1="469.95" y1="530.50" x2="469.95" y2="521.90" stroke="#404040" stroke-width="1.3"/>
<line x1="467.95" y1="521.90" x2="471.95" y2="521.90" stroke="#404040" stroke-width="1.6"/>
<rect x="477.55" y="524.70" width="6.10" height="88.90" fill="#e5177f"/>
<line x1="480.60" y1="524.70" x2="480.60" y2="512.90" stroke="#404040" stroke-width="1.3"/>
<line x1="478.60" y1="512.90" x2="482.60" y2="512.90" stroke="#404040" stroke-width="1.6"/>
<rect x="488.20" y="505.10" width="6.10" height="108.50" fill="#c8102e"/>
<line x1="491.25" y1="505.10" x2="491.25" y2="498.80" stroke="#404040" stroke-width="1.3"/>
<line x1="489.25" y1="498.80" x2="493.25" y2="498.80" stroke="#404040" stroke-width="1.6"/>
<rect x="498.85" y="517.30" width="6.10" height="96.30" fill="#3aa935"/>
<line x1="501.90" y1="517.30" x2="501.90" y2="512.00" stroke="#404040" stroke-width="1.3"/>
<line x1="499.90" y1="512.00" x2="503.90" y2="512.00" stroke="#404040" stroke-width="1.6"/>
<line x1="366.10" y1="483.90" x2="388.60" y2="483.90" stroke="#3c3c3c" stroke-width="1.25"/>
<circle cx="377.40" cy="480.30" r="1.25" fill="#2b2b2b"/>
<line x1="393.25" y1="483.70" x2="406.75" y2="483.70" stroke="#3c3c3c" stroke-width="1.25"/>
<circle cx="400.00" cy="480.10" r="1.25" fill="#2b2b2b"/>
<line x1="466.50" y1="483.80" x2="489.60" y2="483.80" stroke="#3c3c3c" stroke-width="1.25"/>
<circle cx="478.00" cy="480.20" r="1.25" fill="#2b2b2b"/>
<line x1="493.10" y1="483.80" x2="506.50" y2="483.80" stroke="#3c3c3c" stroke-width="1.25"/>
<circle cx="500.00" cy="480.20" r="1.25" fill="#2b2b2b"/>
<text x="336.00" y="630.00" font-size="10" text-anchor="middle" font-weight="normal" font-style="normal" fill="#222" stroke="#222" stroke-width="0.18">GI</text>
<text x="386.00" y="630.00" font-size="10" text-anchor="middle" font-weight="normal" font-style="normal" fill="#222" stroke="#222" stroke-width="0.18">GII</text>
<text x="436.00" y="630.00" font-size="10" text-anchor="middle" font-weight="normal" font-style="normal" fill="#222" stroke="#222" stroke-width="0.18">GIII</text>
<text x="486.00" y="630.00" font-size="10" text-anchor="middle" font-weight="normal" font-style="normal" fill="#222" stroke="#222" stroke-width="0.18">GIV</text>
<text transform="translate(274.90,544.20) rotate(-90)" x="0" y="0" font-size="10.4" text-anchor="middle" font-weight="normal" fill="#222" stroke="#222" stroke-width="0.3" textLength="86.2" lengthAdjust="spacingAndGlyphs">Bone marrow ROS levels</text>
<text transform="translate(104.60,170.40) rotate(-45)" x="0.00" y="0.00" font-size="10" text-anchor="end" font-style="italic" fill="#222">WT</text>
<text transform="translate(141.30,170.40) rotate(-45)" x="0.00" y="0.00" font-size="10" text-anchor="end" font-style="italic" fill="#222">p21<tspan font-size="7.3" dx="0.4" dy="-4.4">−/−</tspan></text>
<text transform="translate(177.75,170.40) rotate(-45)" x="0.00" y="0.00" font-size="10" text-anchor="end" font-style="italic" fill="#222">Hbb<tspan font-size="7.3" dx="0.6" dy="-4.4">th3/+</tspan></text>
<text transform="translate(214.50,170.40) rotate(-45)" x="0.00" y="0.00" font-size="10" text-anchor="end" font-style="italic" fill="#222">p21<tspan font-size="7.3" dx="0.4" dy="-4.4">−/−</tspan><tspan dy="4.4">/</tspan></text>
<text transform="translate(221.90,177.80) rotate(-45)" x="0.00" y="0.00" font-size="10" text-anchor="end" font-style="italic" fill="#222">Hbb<tspan font-size="7.3" dx="0.6" dy="-4.4">th3/+</tspan></text>
<text transform="translate(364.00,170.60) rotate(-45)" x="0.00" y="0.00" font-size="10" text-anchor="end" font-style="italic" fill="#222">WT</text>
<text transform="translate(400.45,170.60) rotate(-45)" x="0.00" y="0.00" font-size="10" text-anchor="end" font-style="italic" fill="#222">p21<tspan font-size="7.3" dx="0.4" dy="-4.4">−/−</tspan></text>
<text transform="translate(437.00,170.60) rotate(-45)" x="0.00" y="0.00" font-size="10" text-anchor="end" font-style="italic" fill="#222">Hbb<tspan font-size="7.3" dx="0.6" dy="-4.4">th3/+</tspan></text>
<text transform="translate(473.45,170.60) rotate(-45)" x="0.00" y="0.00" font-size="10" text-anchor="end" font-style="italic" fill="#222">p21<tspan font-size="7.3" dx="0.4" dy="-4.4">−/−</tspan><tspan dy="4.4">/</tspan></text>
<text transform="translate(480.85,178.00) rotate(-45)" x="0.00" y="0.00" font-size="10" text-anchor="end" font-style="italic" fill="#222">Hbb<tspan font-size="7.3" dx="0.6" dy="-4.4">th3/+</tspan></text>
<text transform="translate(104.40,626.40) rotate(-45)" x="0.00" y="0.00" font-size="10" text-anchor="end" font-style="italic" fill="#222">WT</text>
<text transform="translate(140.80,626.40) rotate(-45)" x="0.00" y="0.00" font-size="10" text-anchor="end" font-style="italic" fill="#222">p21<tspan font-size="7.3" dx="0.4" dy="-4.4">−/−</tspan></text>
<text transform="translate(177.30,626.40) rotate(-45)" x="0.00" y="0.00" font-size="10" text-anchor="end" font-style="italic" fill="#222">Hbb<tspan font-size="7.3" dx="0.6" dy="-4.4">th3/+</tspan></text>
<text transform="translate(213.75,626.40) rotate(-45)" x="0.00" y="0.00" font-size="10" text-anchor="end" font-style="italic" fill="#222">p21<tspan font-size="7.3" dx="0.4" dy="-4.4">−/−</tspan><tspan dy="4.4">/</tspan></text>
<text transform="translate(221.15,633.80) rotate(-45)" x="0.00" y="0.00" font-size="10" text-anchor="end" font-style="italic" fill="#222">Hbb<tspan font-size="7.3" dx="0.6" dy="-4.4">th3/+</tspan></text>
<rect x="0.5" y="0.5" width="519" height="667" fill="none" stroke="#484848" stroke-width="1"/>
</svg>
</body></html>
